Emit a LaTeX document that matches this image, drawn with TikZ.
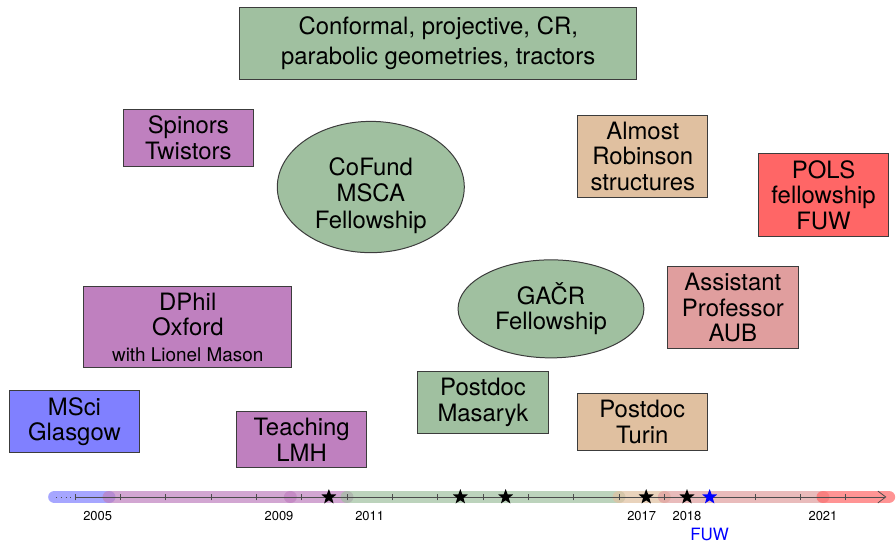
\documentclass[tikz,border=0pt]{standalone}
\usepackage{fontspec}
\setmainfont{TeX Gyre Heros}
\usepackage{tikz}
\usetikzlibrary{arrows.meta,shapes.geometric}
\definecolor{glasgow}{RGB}{128,128,255}
\definecolor{oxford}{RGB}{191,128,191}
\definecolor{brno}{RGB}{160,192,160}
\definecolor{torino}{RGB}{224,192,160}
\definecolor{beirut}{RGB}{224,158,158}
\definecolor{warsaw}{RGB}{255,102,102}
\definecolor{rim}{RGB}{60,60,60}

\begin{document}
\begin{tikzpicture}[font=\fontsize{12}{12.8}\selectfont,
  card/.style={draw=rim,line width=0.5pt,align=center,minimum width=2.3cm},
  blob/.style={draw=rim,line width=0.5pt,ellipse,align=center,inner sep=0pt},
  band/.style={line width=6.5pt,line cap=round,opacity=0.7},
  yr/.style={font=\fontsize{6.5}{7}\selectfont},
  prize/.style={star,star points=5,star point ratio=2.4,fill=black,
                inner sep=0pt,minimum size=8pt}]
\useasboundingbox (-1.324,-0.794) rectangle (14.489,8.771);
% ================= timeline (one unit = one year from 2005) =================
\begin{scope}[x=0.8cm]
  % coloured periods, the overlapping caps give the dots
  \draw[band,glasgow] (-0.45,0) -- (0.75,0);
  \draw[band,oxford] (0.75,0) -- (4.75,0);
  \draw[band,oxford] (4.75,0) -- (6,0);
  \draw[band,brno] (6,0) -- (12,0);
  \draw[band,torino] (12,0) -- (13,0);
  \draw[band,beirut] (13,0) -- (16.5,0);
  \draw[band,warsaw] (16.5,0) -- (17.95,0);
  % axis
  \coordinate (past) at (-0.42,0);
  \coordinate (start) at (0,0);
  \coordinate (future) at (17.9,0);
  \draw[black!70,dotted] (past) -- (start);
  \draw[black!70,-{Straight Barb[length=4pt,width=6pt]}] (start) -- (future);
  \foreach \t in {0,...,17}
    \draw[black!70] (\t,-0.06) -- (\t,0.06);
  % papers
  \foreach \t [count=\i] in {5.6,8.5,9.5,12.6,13.5}
    \node[prize] (st\i) at (\t,0) {};
  \node[prize,fill=blue] (stfuw) at (14,0) {};
  \foreach \t/\y in {0.5/2005,4.5/2009,6.5/2011,12.5/2017,13.5/2018,16.5/2021}
    \node[yr] (y\y) at (\t,-0.335) {\y};
  \node[text=blue,font=\fontsize{8.5}{9}\selectfont] (fuwlab) at (14,-0.67) {FUW};
\end{scope}
% ================= positions and topics =================
\node[card,fill=brno,minimum width=7cm,minimum height=1.27cm,
      font=\fontsize{12}{15}\selectfont] (geom) at (6.41,8.01)
      {Conformal, projective, CR,\\ parabolic geometries, tractors};
\node[card,fill=oxford] (spin) at (2.0,6.34) {Spinors\\Twistors};
\node[blob,fill=brno,minimum width=3.3cm,minimum height=2.1cm,text height=44pt,
      font=\fontsize{12}{13.2}\selectfont] (cofund)
      at (5.22,5.47) {CoFund\\MSCA\\Fellowship};
\node[card,fill=torino] (robin) at (10.02,6.01) {Almost\\Robinson\\structures};
\node[card,fill=warsaw] (pols) at (13.21,5.33) {POLS\\fellowship\\FUW};
\node[blob,fill=brno,minimum width=3.28cm,minimum height=1.73cm] (gacr)
      at (8.40,3.32) {GAČR\\Fellowship};
\node[card,fill=beirut] (aub) at (11.61,3.34) {Assistant\\Professor\\AUB};
\node[card,fill=oxford,minimum width=3.67cm] (dphil) at (1.99,3.0)
      {DPhil\\Oxford\\{\fontsize{9.5}{11}\selectfont with Lionel Mason}};
\node[card,fill=glasgow] (msci) at (-0.01,1.33) {MSci\\Glasgow};
\node[card,fill=oxford] (lmh) at (4.0,1.01) {Teaching\\LMH};
\node[card,fill=brno] (masaryk) at (7.2,1.67) {Postdoc\\Masaryk};
\node[card,fill=torino] (turin) at (10.01,1.32) {Postdoc\\Turin};
\end{tikzpicture}
\end{document}
